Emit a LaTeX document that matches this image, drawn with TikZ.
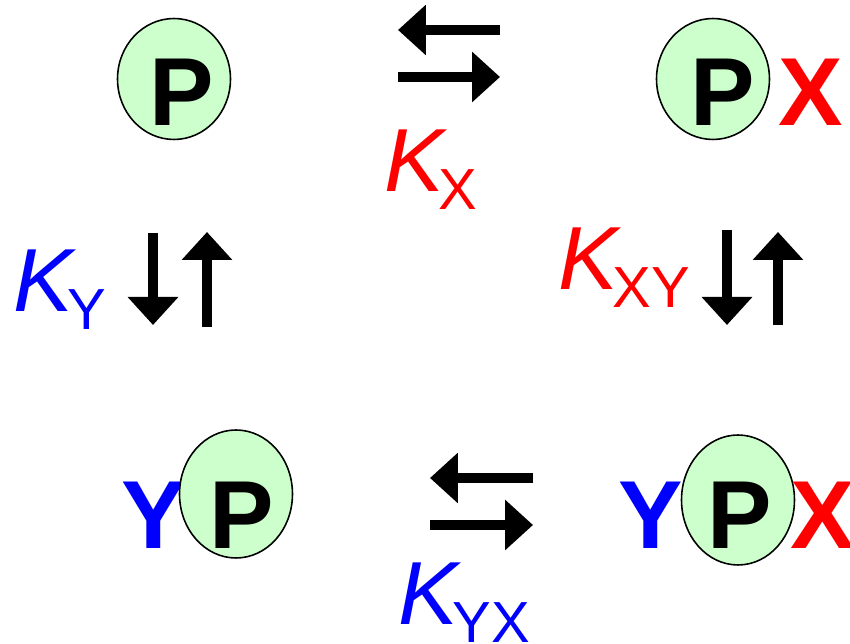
\documentclass[tikz,border=0pt]{standalone}
\usepackage{fontspec}
\setmainfont{Liberation Sans}
\usetikzlibrary{arrows.meta,shapes.geometric}
\definecolor{protgreen}{RGB}{204,255,204}
\tikzset{
  prot/.style={ellipse, draw=black, line width=0.9pt, fill=protgreen, inner sep=0pt},
  big/.style={inner sep=0pt, font=\fontsize{55}{55}\selectfont\bfseries},
  konst/.style={inner sep=0pt, anchor=base west},
  eq/.style={line width=0.21cm, -{Triangle[length=0.56cm,width=0.98cm]}}
}
\newcommand{\kconst}[1]{{\fontsize{51}{51}\selectfont\itshape K}\kern-3pt{\fontsize{33}{33}\selectfont\lower10pt\hbox{#1}}}
\begin{document}
\begin{tikzpicture}[x=0.02cm,y=-0.02cm]
  \useasboundingbox (0,0) rectangle (850,644);

  % ligands
  \node[big, red] (x2) at (811,92) {X};
  \node[big, blue] (y3) at (154,515) {Y};
  \node[big, blue] (y4) at (651,515) {Y};
  \node[big, red] (x4) at (823,515) {X};

  % protein
  \node[prot, minimum width=2.26cm, minimum height=2.42cm] (e1) at (174,79) {};
  \node[prot, minimum width=2.26cm, minimum height=2.42cm] (e2) at (713,79) {};
  \node[prot, minimum width=2.26cm, minimum height=2.56cm] (e3) at (236,494) {};
  \node[prot, minimum width=2.26cm, minimum height=2.6cm] (e4) at (738,500) {};
  \node[big] (p1) at (182,92) {P};
  \node[big] (p2) at (723,92) {P};
  \node[big] (p3) at (242,515) {P};
  \node[big] (p4) at (740,515) {P};

  % arrow ends
  \coordinate (ta) at (500,30);  \coordinate (tb) at (398,30);
  \coordinate (tc) at (398,77);  \coordinate (td) at (500,77);
  \coordinate (ba) at (533,478); \coordinate (bb) at (430,478);
  \coordinate (bc) at (430,525); \coordinate (bd) at (533,525);
  \coordinate (la) at (153,233); \coordinate (lb) at (153,325);
  \coordinate (lc) at (207,327); \coordinate (ld) at (207,232);
  \coordinate (ra) at (727,230); \coordinate (rb) at (727,325);
  \coordinate (rc) at (778,325); \coordinate (rd) at (778,232);

  \draw[eq] (ta) -- (tb);
  \draw[eq] (tc) -- (td);
  \draw[eq] (ba) -- (bb);
  \draw[eq] (bc) -- (bd);
  \draw[eq] (la) -- (lb);
  \draw[eq] (lc) -- (ld);
  \draw[eq] (ra) -- (rb);
  \draw[eq] (rc) -- (rd);

  % constants
  \node[konst, red] (kx) at (384,192) {\kconst{X}};
  \node[konst, blue] (ky) at (13,312) {\kconst{Y}};
  \node[konst, red] (kxy) at (558,290) {\kconst{XY}};
  \node[konst, blue] (kyx) at (398,625) {\kconst{YX}};
\end{tikzpicture}
\end{document}
